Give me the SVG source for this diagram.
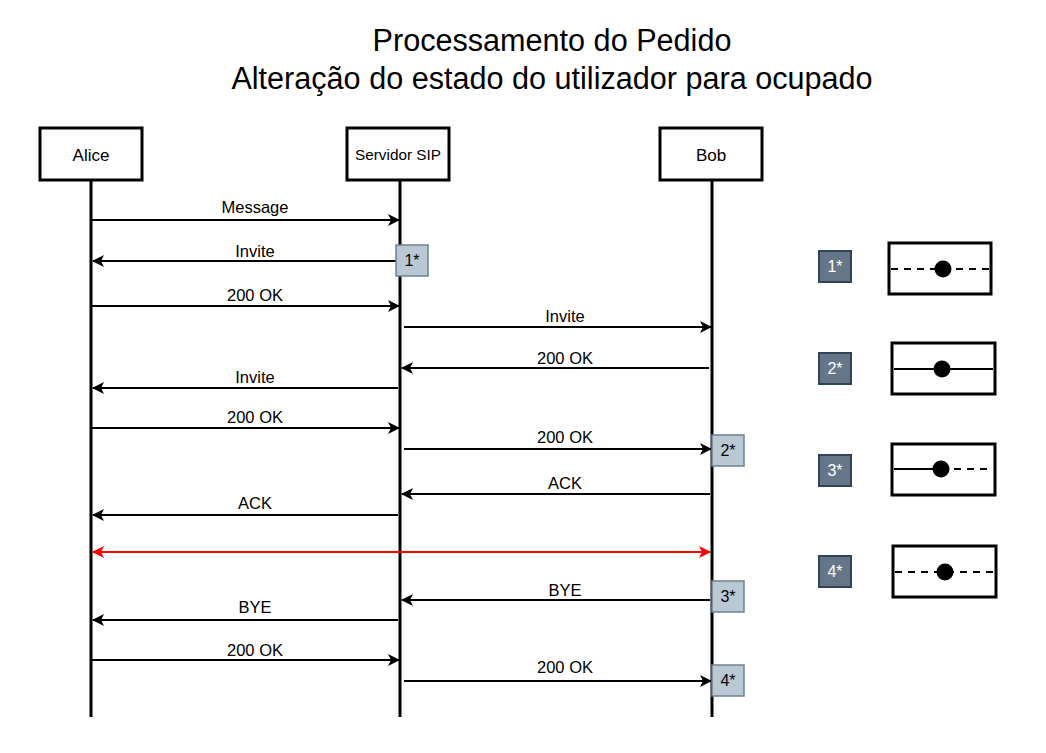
<svg xmlns="http://www.w3.org/2000/svg" width="1046" height="753" viewBox="0 0 1046 753">
<style>
text{font-family:"Liberation Sans",Arial,sans-serif;fill:#000}
.title{font-size:30.6px;text-anchor:middle}
.actor rect{fill:#fff;stroke:#000;stroke-width:3}
.actor text{font-size:17px;text-anchor:middle}
.life{stroke:#000;stroke-width:3}
.msg{stroke:#000;stroke-width:2;fill:none;marker-end:url(#ah)}
.lbl{font-size:16.5px;text-anchor:middle}
.note rect{fill:#bac8d3;stroke:#6c8193;stroke-width:1.5}
.note text{font-size:16px;text-anchor:middle}
.key rect{fill:#647687;stroke:#314354;stroke-width:2}
.key text{font-size:16px;text-anchor:middle;fill:#fff}
.leg rect{fill:#fff;stroke:#000;stroke-width:3}
.leg line{stroke:#000;stroke-width:2}
.leg .d{stroke-dasharray:7 6}
</style>
<defs>
<marker id="ah" viewBox="0 0 12 12" refX="11" refY="6" markerWidth="12" markerHeight="12" markerUnits="userSpaceOnUse" orient="auto">
<path d="M0,0 L12,6 L0,12 L3,6 Z" fill="#000"/>
</marker>
<marker id="ahr" viewBox="0 0 12 12" refX="11" refY="6" markerWidth="12" markerHeight="12" markerUnits="userSpaceOnUse" orient="auto-start-reverse">
<path d="M0,0 L12,6 L0,12 L3,6 Z" fill="#f00"/>
</marker>
</defs>
<rect width="1046" height="753" fill="#fff"/>
<g id="title">
<text class="title" x="552" y="51">Processamento do Pedido</text>
<text class="title" x="552" y="89">Alteração do estado do utilizador para ocupado</text>
</g>
<g id="lifelines">
<line class="life" x1="91" y1="180" x2="91" y2="717"/>
<line class="life" x1="400" y1="180" x2="400" y2="717"/>
<line class="life" x1="712" y1="180" x2="712" y2="717"/>
</g>
<g id="alice" class="actor"><rect x="40" y="128" width="102" height="52"/><text x="91" y="161">Alice</text></g>
<g id="servidor" class="actor"><rect x="347" y="128" width="102" height="52"/><text x="398" y="160" style="font-size:15.3px">Servidor SIP</text></g>
<g id="bob" class="actor"><rect x="660" y="128" width="102" height="52"/><text x="711" y="161">Bob</text></g>
<g id="connectors">
<line class="msg" x1="92" y1="220" x2="399" y2="220"/>
<line class="msg" x1="397" y1="261" x2="93" y2="261"/>
<line class="msg" x1="92" y1="306" x2="399" y2="306"/>
<line class="msg" x1="404" y1="327" x2="711" y2="327"/>
<line class="msg" x1="709" y1="368" x2="402" y2="368"/>
<line class="msg" x1="398" y1="388" x2="93" y2="388"/>
<line class="msg" x1="92" y1="428" x2="399" y2="428"/>
<line class="msg" x1="404" y1="449" x2="711" y2="449"/>
<line class="msg" x1="710" y1="494" x2="402" y2="494"/>
<line class="msg" x1="398" y1="515" x2="93" y2="515"/>
<line x1="93" y1="552" x2="710" y2="552" stroke="#f00" stroke-width="2" marker-start="url(#ahr)" marker-end="url(#ahr)"/>
<line class="msg" x1="710" y1="600" x2="402" y2="600"/>
<line class="msg" x1="398" y1="620" x2="93" y2="620"/>
<line class="msg" x1="92" y1="660" x2="399" y2="660"/>
<line class="msg" x1="404" y1="681" x2="711" y2="681"/>
</g>
<g id="labels">
<text class="lbl" x="255" y="213">Message</text>
<text class="lbl" x="255" y="257">Invite</text>
<text class="lbl" x="255" y="301">200 OK</text>
<text class="lbl" x="565" y="322">Invite</text>
<text class="lbl" x="565" y="364">200 OK</text>
<text class="lbl" x="255" y="383">Invite</text>
<text class="lbl" x="255" y="423">200 OK</text>
<text class="lbl" x="565" y="443">200 OK</text>
<text class="lbl" x="565" y="489">ACK</text>
<text class="lbl" x="255" y="509">ACK</text>
<text class="lbl" x="565" y="596">BYE</text>
<text class="lbl" x="255" y="613">BYE</text>
<text class="lbl" x="255" y="656">200 OK</text>
<text class="lbl" x="565" y="673">200 OK</text>
</g>
<g id="note1" class="note"><rect x="396" y="245" width="32" height="31"/><text x="412" y="266">1*</text></g>
<g id="note2" class="note"><rect x="712" y="435" width="32" height="31"/><text x="728" y="456">2*</text></g>
<g id="note3" class="note"><rect x="712" y="581" width="32" height="31"/><text x="728" y="602">3*</text></g>
<g id="note4" class="note"><rect x="712" y="665" width="32" height="31"/><text x="728" y="686">4*</text></g>
<g id="key1" class="key"><rect x="819" y="251" width="32" height="31"/><text x="835" y="272">1*</text></g>
<g id="key2" class="key"><rect x="819" y="353" width="32" height="31"/><text x="835" y="374">2*</text></g>
<g id="key3" class="key"><rect x="819" y="455" width="32" height="31"/><text x="835" y="476">3*</text></g>
<g id="key4" class="key"><rect x="819" y="556" width="32" height="31"/><text x="835" y="577">4*</text></g>
<g id="legend1" class="leg"><rect x="889" y="243" width="102" height="51"/><line class="d" x1="891" y1="269" x2="989" y2="269"/><circle cx="943" cy="269" r="8.5"/></g>
<g id="legend2" class="leg"><rect x="892" y="343" width="103" height="51"/><line x1="894" y1="369" x2="993" y2="369"/><circle cx="942" cy="369" r="8.5"/></g>
<g id="legend3" class="leg"><rect x="892" y="444" width="103" height="51"/><line x1="894" y1="469" x2="941" y2="469"/><line class="d" x1="941" y1="469" x2="993" y2="469"/><circle cx="941" cy="469" r="8.5"/></g>
<g id="legend4" class="leg"><rect x="893" y="546" width="103" height="51"/><line class="d" x1="895" y1="572" x2="994" y2="572"/><circle cx="945" cy="572" r="8.5"/></g>
</svg>
